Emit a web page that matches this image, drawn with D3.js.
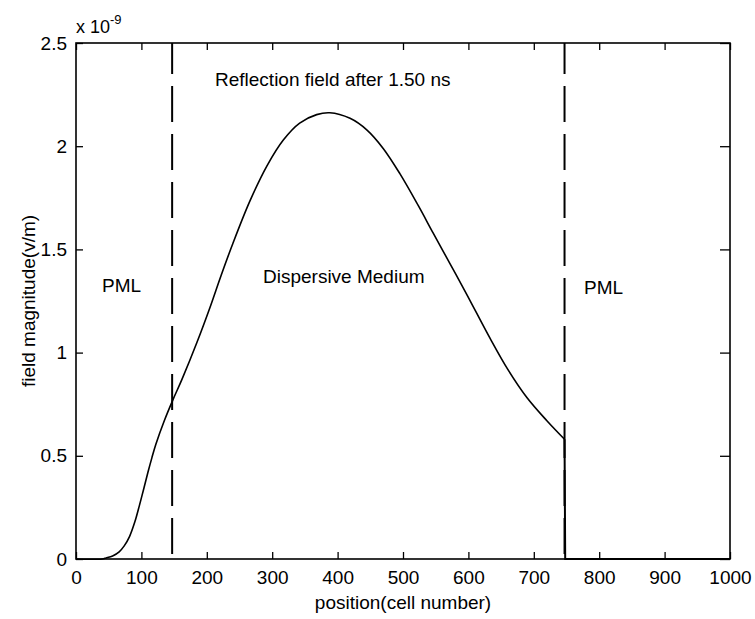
<!DOCTYPE html>
<html>
<head>
    <meta charset="utf-8">
    <style>
        body {
            margin: 0;
            background: white;
        }

        svg {
            display: block;
            font-family: 'Liberation Sans', Arial, sans-serif;
        }

        .tick line {
            stroke: black;
            stroke-width: 1.3;
        }

        .tick text {
            font-size: 19px;
            fill: black;
        }

        .label {
            font-size: 19px;
            fill: black;
        }
    </style>
</head>
<body>
    <svg width="755" height="619"></svg>

<script src="https://d3js.org/d3.v7.min.js"></script>
<script>

    // field: cell position vs magnitude (x 1e-9 V/m)
    let positions = [0, 40, 46, 56, 66, 74, 82, 90, 97, 104, 110, 116, 122, 135, 148, 162, 185, 205, 222, 240,
        266, 292, 317, 342, 368, 388, 419, 445, 470, 495, 523, 546, 572, 597, 633, 660, 690, 720, 747]
    let magnitudes = [0, 0, 0.005, 0.015, 0.035, 0.065, 0.11, 0.18, 0.26, 0.345, 0.42, 0.49, 0.555, 0.67, 0.77, 0.87, 1.05, 1.22, 1.375, 1.53,
        1.735, 1.905, 2.03, 2.112, 2.153, 2.162, 2.135, 2.078, 1.988, 1.868, 1.714, 1.58, 1.43, 1.285, 1.07, 0.92, 0.78, 0.67, 0.58]

    // truncated tail: field drops to zero inside the right PML
    let tailPositions = [747, 748, 1000]
    let tailMagnitudes = [0.58, 0, 0]

    let xTicks = [0, 100, 200, 300, 400, 500, 600, 700, 800, 900, 1000]
    let yTicks = [0, 0.5, 1, 1.5, 2, 2.5]

    // PML boundaries (dashed lines)
    let pmlBounds = [147, 747]

    let width = 755
    let height = 619
    let margin = { top: 43, right: 25, bottom: 60, left: 76 }

    let svg = d3.select("svg")

    let x = d3.scaleLinear()
        .domain([0, 1000])
        .range([margin.left, width - margin.right])

    let y = d3.scaleLinear()
        .domain([0, 2.5])
        .range([height - margin.bottom, margin.top])

    // axes with inward ticks
    svg.append("g")
        .attr("transform", "translate(0," + y(0) + ")")
        .call(d3.axisBottom(x).tickValues(xTicks).tickSizeInner(-7).tickSizeOuter(0).tickPadding(12).tickFormat(d3.format("d")))
        .call(g => g.select(".domain").remove())

    svg.append("g")
        .attr("transform", "translate(0," + y(2.5) + ")")
        .call(d3.axisTop(x).tickValues(xTicks).tickSizeInner(-7).tickSizeOuter(0).tickFormat(""))
        .call(g => g.select(".domain").remove())

    svg.append("g")
        .attr("transform", "translate(" + x(0) + ",0)")
        .call(d3.axisLeft(y).tickValues(yTicks).tickSizeInner(-7).tickSizeOuter(0).tickPadding(9).tickFormat(d3.format("")))
        .call(g => g.select(".domain").remove())

    svg.append("g")
        .attr("transform", "translate(" + x(1000) + ",0)")
        .call(d3.axisRight(y).tickValues(yTicks).tickSizeInner(-10).tickSizeOuter(0).tickFormat(""))
        .call(g => g.select(".domain").remove())

    // frame
    svg.append("rect")
        .attr("x", x(0))
        .attr("y", y(2.5))
        .attr("width", x(1000) - x(0))
        .attr("height", y(0) - y(2.5))
        .style("fill", "none")
        .style("stroke", "black")
        .style("stroke-width", 1.6)

    // dashed PML boundaries, dashes run from the bottom up
    svg.selectAll(".pml")
        .data(pmlBounds)
        .join("line")
        .attr("x1", d => x(d))
        .attr("x2", d => x(d))
        .attr("y1", y(0))
        .attr("y2", y(2.5))
        .style("stroke", "black")
        .style("stroke-width", 2)
        .style("stroke-dasharray", "36,12")
        .style("stroke-dashoffset", 43)

    let smooth = d3.line()
        .x((d, i) => x(positions[i]))
        .y(d => y(d))
        .curve(d3.curveCatmullRom.alpha(0.5))

    svg.append("path")
        .attr("d", smooth(magnitudes))
        .style("fill", "none")
        .style("stroke", "black")
        .style("stroke-width", 1.6)

    let tail = d3.line()
        .x((d, i) => x(tailPositions[i]))
        .y(d => y(d))

    svg.append("path")
        .attr("d", tail(tailMagnitudes))
        .style("fill", "none")
        .style("stroke", "black")
        .style("stroke-width", 2)

    // exponent label
    let expo = svg.append("text")
        .attr("class", "label")
        .attr("x", x(0))
        .attr("y", 33)
        .style("font-size", "18px")
    expo.append("tspan").text("x 10")
    expo.append("tspan").attr("dy", -9).style("font-size", "13px").text("-9")

    // annotations
    svg.append("text")
        .attr("class", "label")
        .attr("x", 215)
        .attr("y", 86)
        .text("Reflection field after 1.50 ns")

    svg.append("text")
        .attr("class", "label")
        .attr("x", 263)
        .attr("y", 283)
        .text("Dispersive Medium")

    svg.append("text")
        .attr("class", "label")
        .attr("x", 102)
        .attr("y", 292)
        .text("PML")

    svg.append("text")
        .attr("class", "label")
        .attr("x", 584)
        .attr("y", 294)
        .text("PML")

    // axis titles
    svg.append("text")
        .attr("class", "label")
        .attr("x", (x(0) + x(1000)) / 2)
        .attr("y", 609)
        .attr("text-anchor", "middle")
        .text("position(cell number)")

    svg.append("text")
        .attr("class", "label")
        .attr("transform", "translate(35," + (y(0) + y(2.5)) / 2 + ") rotate(-90)")
        .attr("text-anchor", "middle")
        .text("field magnitude(v/m)")

</script>
</body>
</html>
